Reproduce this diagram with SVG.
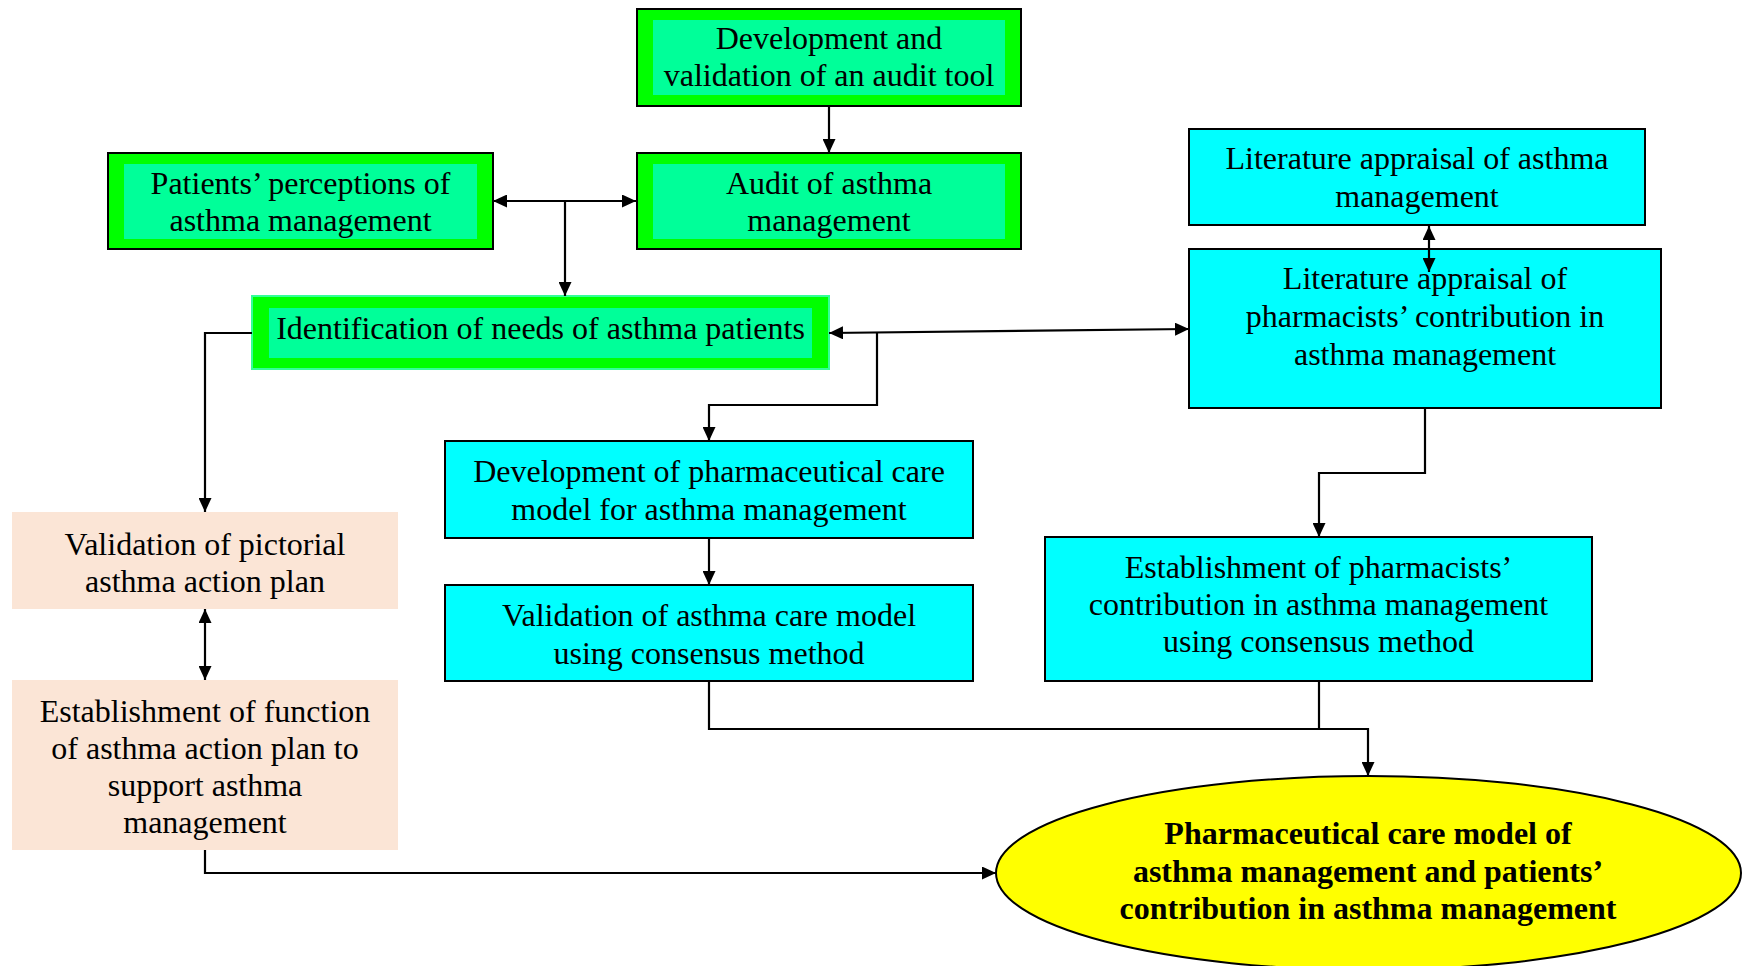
<svg xmlns="http://www.w3.org/2000/svg" width="1750" height="966" viewBox="0 0 1750 966">
  <style>
    .t { font-family: "Liberation Serif", "Times New Roman", serif; font-size: 32px; fill: #000; text-anchor: middle; }
    .tb { font-family: "Liberation Serif", "Times New Roman", serif; font-size: 32px; font-weight: bold; fill: #000; text-anchor: middle; }
    .gOuter { fill: #00ff00; stroke: #000; stroke-width: 2; }
    .gInner { fill: #00ff99; stroke: none; }
    .cyan { fill: #00ffff; stroke: #000; stroke-width: 2; }
    .peach { fill: #fbe5d6; stroke: none; }
    .conn { fill: none; stroke: #000; stroke-width: 2.2; }
  </style>
  <defs>
    <marker id="arrow" viewBox="0 0 14 13" refX="14" refY="6.5" markerWidth="14" markerHeight="13" markerUnits="userSpaceOnUse" orient="auto-start-reverse">
      <path d="M0,0 L14,6.5 L0,13 z" fill="#000"/>
    </marker>
  </defs>

  <rect width="1750" height="966" fill="#fff"/>

  <!-- audit tool development -->
  <g id="node-audit-tool">
    <rect class="gOuter" x="637" y="9" width="384" height="97"/>
    <rect class="gInner" x="653" y="20" width="352" height="75"/>
    <text class="t" x="829" y="49">Development and</text>
    <text class="t" x="829" y="86">validation of an audit tool</text>
  </g>

  <g id="node-audit">
    <rect class="gOuter" x="637" y="153" width="384" height="96"/>
    <rect class="gInner" x="653" y="164" width="352" height="75"/>
    <text class="t" x="829" y="194">Audit of asthma</text>
    <text class="t" x="829" y="231">management</text>
  </g>

  <g id="node-patients">
    <rect class="gOuter" x="108" y="153" width="385" height="96"/>
    <rect class="gInner" x="124" y="164" width="353" height="75"/>
    <text class="t" x="300.5" y="194">Patients’ perceptions of</text>
    <text class="t" x="300.5" y="231">asthma management</text>
  </g>

  <g id="node-needs">
    <rect x="252" y="296" width="577" height="73" fill="#00ff00" stroke="#33ff99" stroke-width="2"/>
    <rect class="gInner" x="269" y="308" width="543" height="50"/>
    <text class="t" x="540.5" y="339">Identification of needs of asthma patients</text>
  </g>

  <g id="node-lit-asthma">
    <rect class="cyan" x="1189" y="129" width="456" height="96"/>
    <text class="t" x="1417" y="169">Literature appraisal of asthma</text>
    <text class="t" x="1417" y="207">management</text>
  </g>

  <g id="node-lit-pharm">
    <rect class="cyan" x="1189" y="249" width="472" height="159"/>
    <text class="t" x="1425" y="289">Literature appraisal of</text>
    <text class="t" x="1425" y="327">pharmacists’ contribution in</text>
    <text class="t" x="1425" y="365">asthma management</text>
  </g>

  <g id="node-dev-model">
    <rect class="cyan" x="445" y="441" width="528" height="97"/>
    <text class="t" x="709" y="482">Development of pharmaceutical care</text>
    <text class="t" x="709" y="520">model for asthma management</text>
  </g>

  <g id="node-val-model">
    <rect class="cyan" x="445" y="585" width="528" height="96"/>
    <text class="t" x="709" y="626">Validation of asthma care model</text>
    <text class="t" x="709" y="664">using consensus method</text>
  </g>

  <g id="node-est-pharm">
    <rect class="cyan" x="1045" y="537" width="547" height="144"/>
    <text class="t" x="1318.5" y="578">Establishment of pharmacists’</text>
    <text class="t" x="1318.5" y="615">contribution in asthma management</text>
    <text class="t" x="1318.5" y="652">using consensus method</text>
  </g>

  <g id="node-val-plan">
    <rect class="peach" x="12" y="512" width="386" height="97"/>
    <text class="t" x="205" y="555">Validation of pictorial</text>
    <text class="t" x="205" y="592">asthma action plan</text>
  </g>

  <g id="node-est-plan">
    <rect class="peach" x="12" y="680" width="386" height="170"/>
    <text class="t" x="205" y="722">Establishment of function</text>
    <text class="t" x="205" y="759">of asthma action plan to</text>
    <text class="t" x="205" y="796">support asthma</text>
    <text class="t" x="205" y="833">management</text>
  </g>

  <g id="node-outcome">
    <ellipse cx="1368.5" cy="873" rx="372.5" ry="97" fill="#ffff00" stroke="#000" stroke-width="2"/>
    <text class="tb" x="1368" y="844">Pharmaceutical care model of</text>
    <text class="tb" x="1368" y="882">asthma management and patients’</text>
    <text class="tb" x="1368" y="919">contribution in asthma management</text>
  </g>

  <!-- connectors, drawn above the boxes -->
  <g id="connectors">
    <path class="conn" d="M829,106 V153" marker-end="url(#arrow)"/>
    <path class="conn" d="M493,201 H636" marker-start="url(#arrow)" marker-end="url(#arrow)"/>
    <path class="conn" d="M565,201 V296" marker-end="url(#arrow)"/>
    <path class="conn" d="M252,333 H205 V512" marker-end="url(#arrow)"/>
    <path class="conn" d="M829,333 L1189,329" marker-start="url(#arrow)" marker-end="url(#arrow)"/>
    <path class="conn" d="M877,332.5 V405 H709 V441" marker-end="url(#arrow)"/>
    <path class="conn" d="M1429,226 V272" marker-start="url(#arrow)" marker-end="url(#arrow)"/>
    <path class="conn" d="M1425,408 V473 H1319 V537" marker-end="url(#arrow)"/>
    <path class="conn" d="M709,538 V585" marker-end="url(#arrow)"/>
    <path class="conn" d="M709,681 V729 H1368 V776" marker-end="url(#arrow)"/>
    <path class="conn" d="M1319,681 V729"/>
    <path class="conn" d="M205,609 V680" marker-start="url(#arrow)" marker-end="url(#arrow)"/>
    <path class="conn" d="M205,850 V873 H996" marker-end="url(#arrow)"/>
  </g>
</svg>
